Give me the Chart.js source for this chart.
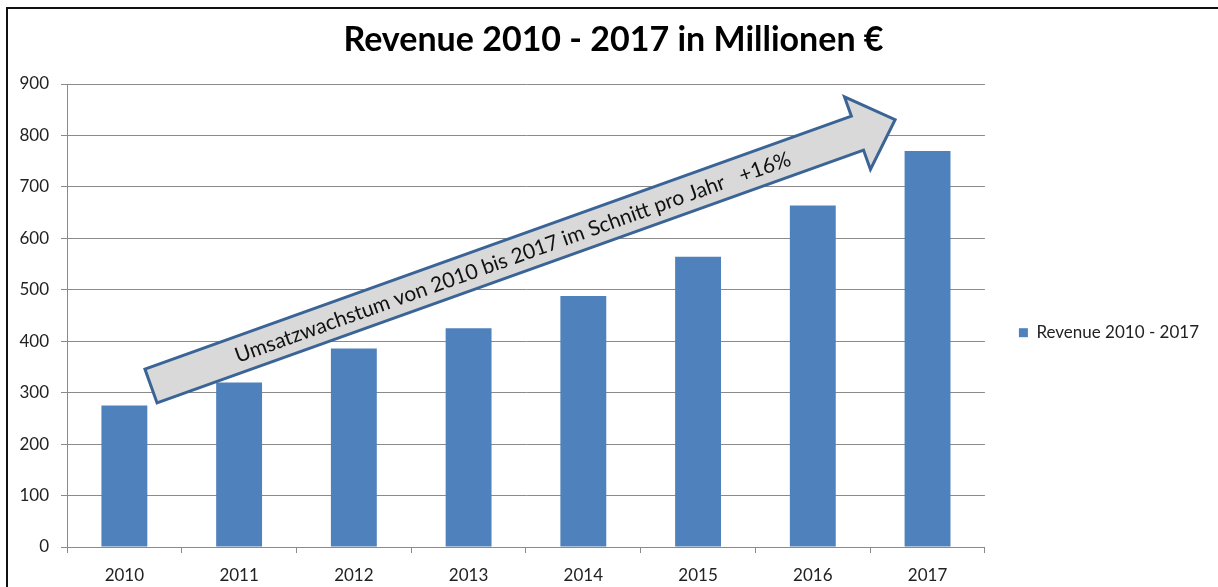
<!DOCTYPE html>
<html>
<head>
<meta charset="utf-8">
<script src="https://cdn.jsdelivr.net/npm/chart.js@4.4.0/dist/chart.umd.min.js"></script>
<style>
    html, body { margin: 0; padding: 0; background: #fff; }
    #wrap { position: relative; width: 1218px; height: 587px; }
</style>
</head>
<body>
<div id="wrap"><canvas id="revenueChart" width="1218" height="587"></canvas></div>
<script>
// Data
const years = ['2010', '2011', '2012', '2013', '2014', '2015', '2016', '2017'];
const revenue = [275, 320, 386, 425, 488, 564, 664, 770];
const yMin = 0;
const yMax = 900;
const yStep = 100;
const seriesLabel = 'Revenue 2010 - 2017';
const chartTitle = 'Revenue 2010 - 2017 in Millionen €';
const arrowLabel = 'Umsatzwachstum von 2010 bis 2017 im Schnitt pro Jahr   +16%';

const FONT = 'Lato, "Open Sans", sans-serif';
const GRID = '#8a8a8a';

// Frame + growth arrow drawn on top of the bars
const decorations = {
    id: 'decorations',
    afterDraw(chart) {
        const ctx = chart.ctx;
        ctx.save();

        // outer frame (top and left edge visible)
        ctx.strokeStyle = '#111';
        ctx.lineWidth = 2;
        ctx.beginPath();
        ctx.moveTo(7, 600);
        ctx.lineTo(7, 8);
        ctx.lineTo(1230, 8);
        ctx.stroke();

        // arrow: tail centre -> tip
        const tail = { x: 151, y: 386 };
        const tip = { x: 897, y: 119 };
        const bodyHalf = 18, headHalf = 38.5, headLen = 40;
        const dx = tip.x - tail.x, dy = tip.y - tail.y;
        const len = Math.sqrt(dx * dx + dy * dy) - 2;
        const angle = Math.atan2(dy, dx);

        ctx.translate(tail.x, tail.y);
        ctx.rotate(angle);
        ctx.beginPath();
        ctx.moveTo(0, -bodyHalf);
        ctx.lineTo(len - headLen, -bodyHalf);
        ctx.lineTo(len - headLen, -headHalf);
        ctx.lineTo(len, 0);
        ctx.lineTo(len - headLen, headHalf);
        ctx.lineTo(len - headLen, bodyHalf);
        ctx.lineTo(0, bodyHalf);
        ctx.closePath();
        ctx.fillStyle = '#d9d9d9';
        ctx.fill();
        ctx.lineWidth = 3;
        ctx.lineJoin = 'miter';
        ctx.strokeStyle = '#3b6496';
        ctx.stroke();

        ctx.fillStyle = '#111';
        ctx.font = '21px ' + FONT;
        ctx.textAlign = 'center';
        ctx.textBaseline = 'middle';
        ctx.fillText(arrowLabel, 384, 1);
        ctx.restore();
    }
};

new Chart(document.getElementById('revenueChart'), {
    type: 'bar',
    data: {
        labels: years,
        datasets: [{
            label: seriesLabel,
            data: revenue,
            backgroundColor: '#4f81bd',
            borderWidth: 0,
            barPercentage: 0.4,
            categoryPercentage: 1.0
        }]
    },
    options: {
        responsive: false,
        animation: false,
        layout: { padding: { left: 18, top: 0, right: 9, bottom: 0 } },
        plugins: {
            title: {
                display: true,
                text: chartTitle,
                color: '#000',
                font: { family: FONT, size: 34, weight: 'bold' },
                padding: { top: 19.6, bottom: 23.6 }
            },
            legend: {
                position: 'right',
                maxWidth: 233,
                title: {
                    display: true,
                    text: ' ',
                    font: { size: 12 },
                    padding: { top: 64, bottom: 0 }
                },
                labels: {
                    boxWidth: 9,
                    boxHeight: 9,
                    padding: 34,
                    color: '#222',
                    font: { family: FONT, size: 17 }
                }
            },
            tooltip: { enabled: false }
        },
        scales: {
            x: {
                grid: {
                    display: true,
                    drawOnChartArea: false,
                    drawTicks: true,
                    tickLength: 6,
                    color: GRID
                },
                border: { color: GRID },
                ticks: { color: '#222', padding: 12, font: { family: FONT, size: 17 } },
                afterFit: (s) => { s.height = 40; }
            },
            y: {
                min: yMin,
                max: yMax,
                grid: { color: GRID, tickLength: 6 },
                border: { color: GRID },
                ticks: {
                    stepSize: yStep,
                    color: '#222',
                    padding: 12,
                    font: { family: FONT, size: 17 }
                },
                afterFit: (s) => { s.width = 49; }
            }
        }
    },
    plugins: [decorations]
});
</script>
</body>
</html>
